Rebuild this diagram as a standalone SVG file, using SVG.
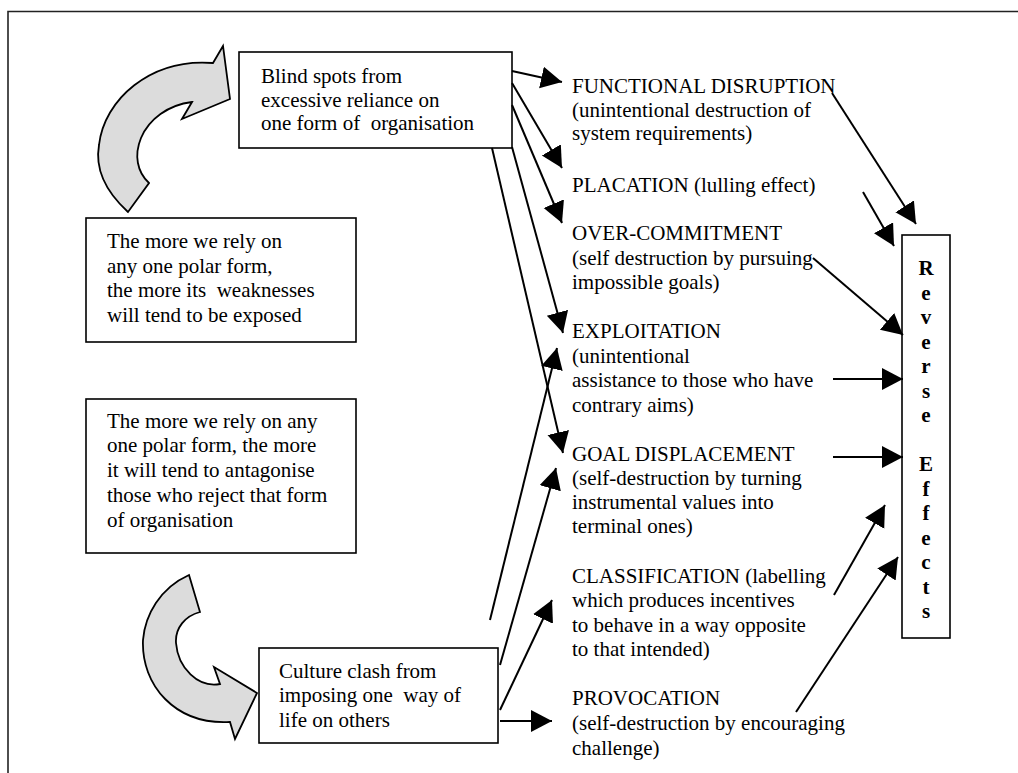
<svg xmlns="http://www.w3.org/2000/svg" width="1018" height="773" viewBox="0 0 1018 773">
  <style>
    text { font-family: "Liberation Serif", "Times New Roman", serif; font-size: 21px; fill: #000; }
    .box { fill: #fff; stroke: #000; stroke-width: 1.6; }
    .frame { fill: none; stroke: #222; stroke-width: 1.6; }
    .loop { fill: #dcdcdc; stroke: #000; stroke-width: 1.8; stroke-linejoin: miter; }
    .edge { fill: none; stroke: #000; stroke-width: 2; }
    .bold { font-weight: bold; }
  </style>
  <defs>
    <marker id="head" markerUnits="userSpaceOnUse" markerWidth="22" markerHeight="24" refX="21" refY="11" orient="auto">
      <path d="M0,0 L21,11 L0,22 Z" fill="#000"/>
    </marker>
  </defs>

  <!-- outer frame: top and left edges only -->
  <path class="frame" d="M8,773 L8,11.5 L1018,11.5"/>

  <!-- curved feedback arrows -->
  <g id="loop-top">
    <path class="loop" d="M128,212 C104,190 95,168 99,145 C104,100 150,58 213,63 L223,46 L230,99 L182,119 L192,102 C168,105 149,119 141,138 C134,155 137,172 149,183 Z"/>
  </g>
  <g id="loop-bottom">
    <path class="loop" d="M189,575 C160,588 145,615 143,640 C141,685 175,725 230,722 L235,739 L257,693 L214,667 L220,684 C198,688 178,668 176,643 C175,628 185,616 200,612 Z"/>
  </g>

  <g id="blind-spots">
    <rect class="box" x="239" y="52" width="273" height="96"/>
    <text x="261" y="83">Blind spots from</text>
    <text x="261" y="107">excessive reliance on</text>
    <text x="261" y="130" xml:space="preserve">one form of  organisation</text>
  </g>

  <g id="weaknesses">
    <rect class="box" x="86" y="218" width="270" height="124"/>
    <text x="107" y="248">The more we rely on</text>
    <text x="107" y="273">any one polar form,</text>
    <text x="107" y="297" xml:space="preserve">the more its  weaknesses</text>
    <text x="107" y="322">will tend to be exposed</text>
  </g>

  <g id="antagonise">
    <rect class="box" x="86" y="399" width="270" height="154"/>
    <text x="107" y="428">The more we rely on any</text>
    <text x="107" y="452">one polar form, the more</text>
    <text x="107" y="477">it will tend to antagonise</text>
    <text x="107" y="502">those who reject that form</text>
    <text x="107" y="527">of organisation</text>
  </g>

  <g id="culture-clash">
    <rect class="box" x="259" y="648" width="239" height="95"/>
    <text x="279" y="678">Culture clash from</text>
    <text x="279" y="702" xml:space="preserve">imposing one  way of</text>
    <text x="279" y="727">life on others</text>
  </g>

  <g id="functional-disruption">
    <text x="572" y="93">FUNCTIONAL DISRUPTION</text>
    <text x="572" y="117">(unintentional destruction of</text>
    <text x="572" y="140">system requirements)</text>
  </g>
  <g id="placation">
    <text x="572" y="192">PLACATION (lulling effect)</text>
  </g>
  <g id="over-commitment">
    <text x="572" y="240">OVER-COMMITMENT</text>
    <text x="572" y="265">(self destruction by pursuing</text>
    <text x="572" y="289">impossible goals)</text>
  </g>
  <g id="exploitation">
    <text x="572" y="338">EXPLOITATION</text>
    <text x="572" y="363">(unintentional</text>
    <text x="572" y="387">assistance to those who have</text>
    <text x="572" y="412">contrary aims)</text>
  </g>
  <g id="goal-displacement">
    <text x="572" y="461">GOAL DISPLACEMENT</text>
    <text x="572" y="485">(self-destruction by turning</text>
    <text x="572" y="509">instrumental values into</text>
    <text x="572" y="533">terminal ones)</text>
  </g>
  <g id="classification">
    <text x="572" y="583">CLASSIFICATION (labelling</text>
    <text x="572" y="607">which produces incentives</text>
    <text x="572" y="632">to behave in a way opposite</text>
    <text x="572" y="656">to that intended)</text>
  </g>
  <g id="provocation">
    <text x="572" y="705">PROVOCATION</text>
    <text x="572" y="730">(self-destruction by encouraging</text>
    <text x="572" y="755">challenge)</text>
  </g>

  <g id="reverse-effects">
    <rect class="box" x="902" y="235" width="48" height="403"/>
    <g class="bold" text-anchor="middle">
      <text x="926" y="275">R</text>
      <text x="926" y="299.5">e</text>
      <text x="926" y="324">v</text>
      <text x="926" y="348.5">e</text>
      <text x="926" y="373">r</text>
      <text x="926" y="397.5">s</text>
      <text x="926" y="422">e</text>
      <text x="926" y="471">E</text>
      <text x="926" y="495.5">f</text>
      <text x="926" y="520">f</text>
      <text x="926" y="544.5">e</text>
      <text x="926" y="569">c</text>
      <text x="926" y="593.5">t</text>
      <text x="926" y="618">s</text>
    </g>
  </g>

  <g id="connectors">
    <!-- from the blind-spots box -->
    <line class="edge" x1="512" y1="71" x2="562" y2="82" marker-end="url(#head)"/>
    <line class="edge" x1="512" y1="83" x2="562" y2="168" marker-end="url(#head)"/>
    <line class="edge" x1="512" y1="105" x2="562" y2="223" marker-end="url(#head)"/>
    <line class="edge" x1="512" y1="147" x2="563" y2="333" marker-end="url(#head)"/>
    <line class="edge" x1="492" y1="148" x2="563" y2="453" marker-end="url(#head)"/>
    <!-- from the culture-clash box -->
    <line class="edge" x1="490" y1="620" x2="557" y2="348" marker-end="url(#head)"/>
    <line class="edge" x1="500" y1="665" x2="556" y2="468" marker-end="url(#head)"/>
    <line class="edge" x1="500" y1="710" x2="552" y2="600" marker-end="url(#head)"/>
    <line class="edge" x1="500" y1="721" x2="552" y2="721" marker-end="url(#head)"/>
    <!-- into reverse effects -->
    <line class="edge" x1="832" y1="93" x2="916" y2="224" marker-end="url(#head)"/>
    <line class="edge" x1="863" y1="192" x2="894" y2="246" marker-end="url(#head)"/>
    <line class="edge" x1="813" y1="258" x2="903" y2="335" marker-end="url(#head)"/>
    <line class="edge" x1="833" y1="379" x2="903" y2="379" marker-end="url(#head)"/>
    <line class="edge" x1="833" y1="457" x2="903" y2="457" marker-end="url(#head)"/>
    <line class="edge" x1="834" y1="595" x2="885" y2="505" marker-end="url(#head)"/>
    <line class="edge" x1="796" y1="712" x2="898" y2="557" marker-end="url(#head)"/>
  </g>
</svg>
